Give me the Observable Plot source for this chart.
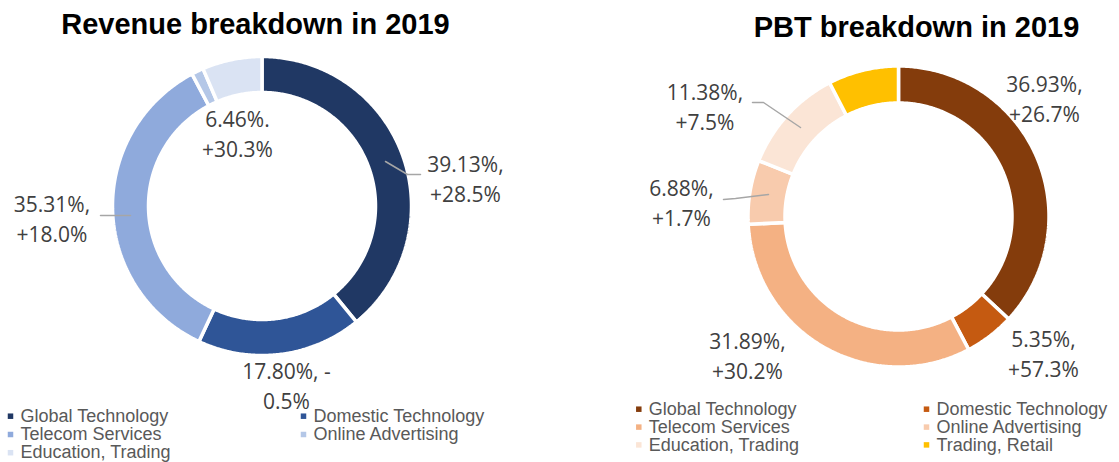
<!DOCTYPE html>
<html><head><meta charset="utf-8">
<script src="https://cdn.jsdelivr.net/npm/d3@7"></script>
<script src="https://cdn.jsdelivr.net/npm/@observablehq/plot@0.6"></script>
<style>
body{margin:0;background:#fff}
#chart{width:1119px;height:462px}
</style>
</head><body><div id="chart"></div>
<script>
// ---- data ----
const revTitle = "Revenue breakdown in 2019";
const revCategories = ["Global Technology","Domestic Technology","Telecom Services","Online Advertising","Education, Trading"];
const revShares = [39.13, 17.80, 35.31, 1.30, 6.46];
const revLabels = ["39.13%,\n+28.5%", "17.80%, -\n0.5%", "35.31%,\n+18.0%", null, "6.46%.\n+30.3%"];
const revColors = ["#203864","#2F5597","#8FAADC","#B4C7E7","#DAE3F3"];

const pbtTitle = "PBT breakdown in 2019";
const pbtCategories = ["Global Technology","Domestic Technology","Telecom Services","Online Advertising","Education, Trading","Trading, Retail"];
const pbtShares = [36.93, 5.35, 31.89, 6.88, 11.38, 7.57];
const pbtLabels = ["36.93%,\n+26.7%", "5.35%,\n+57.3%", "31.89%,\n+30.2%", "6.88%,\n+1.7%", "11.38%,\n+7.5%", null];
const pbtColors = ["#843C0C","#C55A11","#F4B183","#F8CBAD","#FBE5D6","#FFC000"];

// ---- layout (not data) ----
const W = 1119, H = 462;
const revGeom = {cx: 261.5, cy: 205.5, R: 149.5, r: 113.5};
const pbtGeom = {cx: 898, cy: 216, R: 150.5, r: 113.5};
const revLabelPos = [{x:465,y:176.5},{x:286,y:384},{x:51.5,y:216.5},null,{x:237,y:132}];
const pbtLabelPos = [{x:1044,y:97},{x:1043,y:352},{x:747,y:353.5},{x:681,y:201},{x:704.5,y:105},null];
const leaders = [
  {id:"r0", pts:[[385,161],[407,174],[420,174]]},
  {id:"r2", pts:[[100,215],[130,215]]},
  {id:"p4", pts:[[752,102],[763,102],[800,127]]},
  {id:"p3", pts:[[723,199],[735,198],[768,194]]}
];

function ring(cats, shares, colors, g, prefix) {
  const arcs = d3.pie().sort(null).value(d => d)(shares);
  const pts = [];
  arcs.forEach((a, i) => {
    const n = Math.max(4, Math.ceil((a.endAngle - a.startAngle) / 0.01));
    const poly = [];
    for (let k = 0; k <= n; k++) poly.push([a.startAngle + (a.endAngle - a.startAngle) * k / n, g.R]);
    for (let k = n; k >= 0; k--) poly.push([a.startAngle + (a.endAngle - a.startAngle) * k / n, g.r]);
    poly.push(poly[0]);
    poly.forEach(([t, rad]) => pts.push({key: prefix + i, color: colors[i], x: g.cx + rad * Math.sin(t), y: g.cy - rad * Math.cos(t)}));
  });
  return pts;
}
function labels(lbls, pos) {
  return lbls.map((t, i) => t && pos[i] ? {text: t, x: pos[i].x, y: pos[i].y} : null).filter(d => d);
}
function legend(cats, colors, x0, x1, ys) {
  return cats.map((c, i) => ({cat: c, color: colors[i], x: i % 2 ? x1 : x0, y: ys[Math.floor(i / 2)]}));
}

const slices = ring(revCategories, revShares, revColors, revGeom, "r").concat(ring(pbtCategories, pbtShares, pbtColors, pbtGeom, "p"));
const lbl = labels(revLabels, revLabelPos).concat(labels(pbtLabels, pbtLabelPos));
const leaderPts = leaders.flatMap(l => l.pts.map(([x, y]) => ({id: l.id, x, y})));
const leg = legend(revCategories, revColors, 10, 303, [415.7, 434, 452.2]).concat(legend(pbtCategories, pbtColors, 638.3, 926, [408.7, 426.6, 444.4]));
const titles = [{t: revTitle, x: 255, y: 24}, {t: pbtTitle, x: 916, y: 27.5}];

const chart = Plot.plot({
  width: W, height: H, margin: 0,
  x: {domain: [0, W], range: [0, W], axis: null},
  y: {domain: [0, H], range: [0, H], axis: null},
  color: {type: "identity"},
  marks: [
    Plot.line(slices, {x: "x", y: "y", z: "key", fill: "color", stroke: "white", strokeWidth: 3.5, strokeLinejoin: "miter"}),
    Plot.line(leaderPts, {x: "x", y: "y", z: "id", stroke: "#A6A6A6", strokeWidth: 1.5}),
    Plot.text(lbl, {x: "x", y: "y", text: "text", textAnchor: "middle", lineAnchor: "middle", lineHeight: 1.43, fontSize: 21, fill: "#404040", fontFamily: "Open Sans"}),
    Plot.text(titles, {x: "x", y: "y", text: "t", fontSize: 29, fontWeight: "bold", fill: "#000", fontFamily: "Liberation Sans"}),
    Plot.dot(leg, {x: "x", y: "y", symbol: "square", r: 3.1, fill: "color"}),
    Plot.text(leg, {x: d => d.x + 10, y: "y", text: "cat", textAnchor: "start", fontSize: 18, fill: "#595959", fontFamily: "Liberation Sans"})
  ]
});
document.getElementById("chart").append(chart);
</script>
</body></html>
